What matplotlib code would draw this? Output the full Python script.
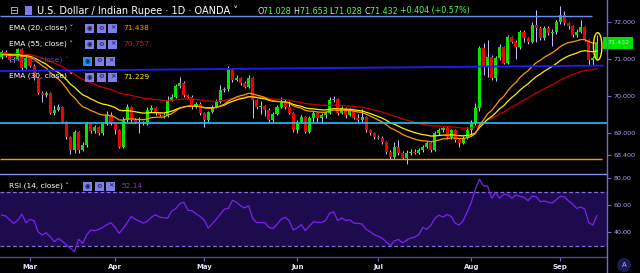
import numpy as np
import pandas as pd
import matplotlib
matplotlib.use("Agg")
import matplotlib.pyplot as plt
from matplotlib.patches import Ellipse, Rectangle
from matplotlib.lines import Line2D
import matplotlib.ticker as mticker

# daily candles, USD/INR (OANDA), 20 Feb - 13 Sep 2019
dates = pd.bdate_range("2019-02-20", "2019-09-13")

first_open = 71.05
close = [
    71.19, 71.11, 70.97, 71.00, 71.27, 70.75, 71.02, 70.81, 70.48, 70.08,
    70.02, 70.08, 69.53, 69.62, 69.70, 69.29, 68.88, 68.53, 69.02, 68.53,
    68.67, 69.24, 69.05, 69.15, 68.99, 69.24, 69.48, 69.26, 69.07, 68.61,
    69.34, 69.70, 69.34, 69.30, 69.26, 69.29, 69.62, 69.67, 69.53, 69.48,
    69.46, 69.89, 69.97, 70.27, 70.35, 70.02, 69.98, 69.70, 69.78, 69.53,
    69.34, 69.56, 69.70, 69.83, 70.16, 70.18, 70.70, 70.43, 70.48, 70.35,
    70.24, 70.48, 69.89, 69.70, 69.72, 69.62, 69.34, 69.51, 69.70, 69.83,
    69.70, 69.53, 69.07, 69.29, 69.43, 69.02, 69.40, 69.53, 69.40, 69.48,
    69.53, 69.89, 69.91, 69.53, 69.67, 69.48, 69.62, 69.40, 69.34, 69.43,
    69.07, 68.99, 68.88, 68.86, 68.75, 68.48, 68.34, 68.61, 68.45, 68.31,
    68.45, 68.48, 68.46, 68.52, 68.61, 68.72, 68.53, 68.99, 69.07, 69.12,
    68.88, 69.07, 68.80, 68.72, 68.86, 69.07, 69.26, 69.67, 71.30, 70.78,
    71.05, 70.48, 71.02, 71.32, 70.89, 71.59, 71.46, 71.32, 71.73, 71.57,
    71.46, 71.92, 71.84, 71.57, 71.84, 71.70, 71.73, 72.00, 72.19, 71.97,
    71.89, 71.65, 71.73, 71.86, 71.51, 70.97, 71.028, 71.432,
]
high = [
    71.24, 71.25, 71.15, 71.05, 71.30, 71.30, 71.08, 71.05, 70.85, 70.52,
    70.12, 70.12, 70.10, 69.75, 69.78, 69.72, 69.32, 68.90, 69.06, 69.05,
    68.75, 69.28, 69.27, 69.20, 69.18, 69.30, 69.58, 69.55, 69.30, 69.10,
    69.43, 69.78, 69.73, 69.40, 69.42, 69.33, 69.70, 69.75, 69.70, 69.56,
    69.52, 70.00, 70.05, 70.32, 70.51, 70.40, 70.05, 70.02, 69.82, 69.82,
    69.56, 69.60, 69.75, 69.90, 70.30, 70.25, 70.82, 70.75, 70.55, 70.52,
    70.40, 70.55, 70.52, 69.92, 69.85, 69.76, 69.66, 69.56, 69.75, 69.98,
    69.90, 69.85, 69.56, 69.34, 69.48, 69.46, 69.45, 69.58, 69.56, 69.52,
    69.58, 69.97, 70.00, 69.94, 69.72, 69.70, 69.66, 69.65, 69.50, 69.65,
    69.46, 69.10, 69.02, 68.95, 68.90, 68.78, 68.52, 68.75, 68.80, 68.50,
    68.52, 68.55, 68.55, 68.58, 68.66, 68.78, 68.76, 69.05, 69.12, 69.15,
    69.15, 69.10, 69.10, 68.84, 68.90, 69.15, 69.35, 69.80, 71.35, 71.43,
    71.51, 71.10, 71.08, 71.40, 71.35, 71.65, 71.62, 71.50, 71.78, 71.78,
    71.60, 72.00, 72.33, 71.88, 71.90, 71.88, 71.80, 72.05, 72.43, 72.30,
    72.00, 71.92, 71.80, 72.05, 71.90, 71.55, 71.08, 71.653,
]
low = [
    71.00, 71.05, 70.92, 70.92, 70.97, 70.70, 70.72, 70.78, 70.43, 70.05,
    69.83, 69.98, 69.50, 69.48, 69.58, 69.25, 68.84, 68.42, 68.45, 68.45,
    68.50, 68.62, 69.00, 68.98, 68.94, 68.95, 69.20, 69.22, 68.97, 68.58,
    68.58, 69.30, 69.30, 69.25, 68.99, 69.20, 69.20, 69.55, 69.48, 69.44,
    69.40, 69.42, 69.85, 69.93, 70.22, 69.97, 69.93, 69.65, 69.66, 69.48,
    69.15, 69.30, 69.52, 69.66, 69.80, 70.10, 70.14, 70.38, 70.40, 70.30,
    70.20, 70.20, 69.40, 69.65, 69.50, 69.45, 69.30, 69.30, 69.48, 69.66,
    69.65, 69.50, 69.02, 68.98, 69.25, 68.98, 68.98, 69.28, 69.30, 69.25,
    69.40, 69.50, 69.82, 69.48, 69.50, 69.40, 69.44, 69.36, 69.30, 69.30,
    69.02, 68.95, 68.84, 68.82, 68.70, 68.43, 68.30, 68.30, 68.40, 68.28,
    68.14, 68.40, 68.42, 68.42, 68.48, 68.58, 68.48, 68.50, 68.95, 69.02,
    68.84, 68.84, 68.75, 68.62, 68.68, 68.82, 68.95, 69.20, 69.60, 70.56,
    70.51, 70.43, 70.40, 70.98, 70.85, 70.85, 71.42, 71.00, 71.28, 71.45,
    71.40, 71.43, 71.46, 71.50, 71.52, 71.66, 71.35, 71.68, 71.95, 71.92,
    71.80, 71.60, 71.60, 71.70, 71.48, 70.83, 70.83, 71.028,
]
rsi = [
    52.5, 51.9, 49.0, 46.4, 48.9, 53.3, 46.9, 49.4, 48.4, 40.2,
    37.8, 39.5, 36.5, 32.8, 35.3, 33.0, 30.4, 27.9, 25.4, 34.6,
    31.6, 37.8, 41.5, 41.0, 42.0, 43.5, 45.5, 46.9, 43.5, 39.0,
    42.7, 47.0, 51.5, 49.5, 48.0, 46.6, 48.0, 51.0, 52.8, 51.0,
    50.6, 50.3, 55.5, 57.3, 61.0, 62.0, 56.0, 55.8, 53.5, 51.6,
    49.0, 43.0, 46.0, 49.5, 53.0, 57.0, 57.5, 63.5, 62.0, 59.5,
    57.8, 59.5, 50.0, 47.0, 47.0, 46.9, 43.5, 42.5, 45.5, 49.5,
    51.0, 48.5, 41.5, 43.0, 45.5, 41.0, 44.5, 47.5, 47.2, 47.0,
    48.5, 54.0, 55.0, 48.5, 50.5, 48.5, 49.0, 46.5, 46.4, 45.9,
    42.0, 40.2, 38.0, 36.8, 35.5, 32.5, 30.0, 33.5, 34.5, 32.0,
    34.0, 35.5, 36.2, 38.0, 43.5, 42.0, 45.0, 50.1, 52.5, 51.0,
    53.0, 51.5, 46.5, 45.2, 48.5, 55.0, 62.0, 72.0, 79.0, 74.1,
    74.1, 65.0, 69.0, 65.0, 68.0, 67.5, 65.0, 67.5, 66.5, 65.7,
    63.2, 66.5, 66.2, 62.5, 63.0, 62.0, 61.5, 64.0, 66.5, 66.0,
    63.0, 60.7, 57.5, 58.5, 57.0, 47.0, 45.2, 52.14,
]

ema_seed = {20: 71.10, 30: 71.12, 55: 71.15}
ema_colors = {20: "#ff9800", 30: "#ffee00", 55: "#c80000"}

# drawn levels
lvl_top = 72.16
lvl_trend = (70.67, 70.82)
lvl_cyan = 69.27
lvl_orange = 68.30

W, H = 640, 273
BG = "black"
GREEN = "#00e600"
RED = "#f00000"
WICK = "#c4c4ff"
LAV = "#a6a6f2"
AXLINE = "#6c6cc8"


def fx(px):
    return px / W


def fy(py):
    return 1 - py / H


def ema(vals, span, seed):
    a = 2 / (span + 1)
    out, prev = [], seed
    for v in vals:
        prev = prev + a * (v - prev)
        out.append(prev)
    return np.array(out)


c = np.array(close)
o = np.array([first_open] + close[:-1])
x = np.arange(len(c))
up = c >= o
x_left, x_right = -0.41, 149.5

fig = plt.figure(figsize=(6.4, 2.73), dpi=100, facecolor=BG)
ax = fig.add_axes([0, fy(174), fx(607), 174 / H], facecolor=BG)
ax2 = fig.add_axes([0, fy(257), fx(607), 83 / H], facecolor=BG)

# ---- price panel
ax.vlines(x, low, high, color=WICK, lw=0.7, zorder=2)
ax.bar(x, np.maximum(np.abs(c - o), 0.012), bottom=np.minimum(o, c), width=0.75,
       color=np.where(up, GREEN, RED), zorder=3)
for span in (55, 30, 20):
    ax.plot(x, ema(close, span, ema_seed[span]), color=ema_colors[span], lw=0.9, zorder=4)

ax.hlines(lvl_top, x_left, 145.8, color="#5f93f5", lw=1.0, zorder=5)
ax.plot([x_left, 148.5], list(lvl_trend), color="#1c1cff", lw=1.3, zorder=5)
ax.axhline(lvl_cyan, color="#1ec3ff", lw=1.2, zorder=5)
ax.hlines(lvl_orange, x_left, 148.3, color="#ff9800", lw=1.0, zorder=5)
ax.add_patch(Ellipse((147.2, 71.34), 2.1, 0.74, fill=False, ec="#ffee00", lw=1.0, zorder=6))

ax.set_xlim(x_left, x_right)
ax.set_ylim(67.88, 72.596)
ax.yaxis.tick_right()
ax.set_yticks([72, 71, 70, 69, 68.4])
ax.yaxis.set_major_formatter(mticker.FormatStrFormatter("%.3f"))
ax.tick_params(axis="y", colors=AXLINE, labelcolor=LAV, labelsize=4.6, length=3, width=0.8, pad=2)
ax.set_xticks([])
for s in ax.spines.values():
    s.set_visible(False)

ax.text(1.0, close[-1], "71.432", transform=ax.get_yaxis_transform(), ha="left", va="center",
        fontsize=4.6, color="#b4ffb4", zorder=10, clip_on=False,
        bbox=dict(boxstyle="square,pad=0.55", fc="#00e000", ec="none"))

# ---- RSI panel
ax2.axhspan(30, 70, color="#1d0b4e", lw=0)
for lv in (70, 30):
    ax2.axhline(lv, color="#7f6fe0", lw=0.9, ls=(0, (3, 2)))
ax2.plot(x, rsi, color="#7a22f0", lw=0.9)
ax2.set_xlim(x_left, x_right)
ax2.set_ylim(21.5, 82.96)
ax2.yaxis.tick_right()
ax2.set_yticks([80, 60, 40])
ax2.yaxis.set_major_formatter(mticker.FormatStrFormatter("%.2f"))
ax2.tick_params(axis="y", colors=AXLINE, labelcolor=LAV, labelsize=4.6, length=3, width=0.8, pad=2)

month_pos = [i for i in range(1, len(dates)) if dates[i].month != dates[i - 1].month]
ax2.set_xticks(month_pos)
ax2.set_xticklabels([dates[i].strftime("%b") for i in month_pos], fontweight="bold")
ax2.tick_params(axis="x", colors=AXLINE, labelcolor="#e4e4ff", labelsize=5, length=3, width=0.8, pad=2)
for k, s in ax2.spines.items():
    s.set_visible(k in ("top", "bottom"))
ax2.spines["top"].set_color("#8c8cf0")
ax2.spines["top"].set_linewidth(1.0)
ax2.spines["bottom"].set_color("#4a4a96")
ax2.spines["bottom"].set_linewidth(1.0)

fig.add_artist(Line2D([fx(607), fx(607)], [0, 1], color=AXLINE, lw=1.0, transform=fig.transFigure))

# ---- header / legends
renderer = fig.canvas.get_renderer()


def run_text(px, py, pieces, size, weight="normal"):
    for s, col in pieces:
        t = fig.text(fx(px), fy(py), s, color=col, fontsize=size, va="center", ha="left",
                     fontweight=weight, zorder=20)
        px += t.get_window_extent(renderer).width


def icons(py, x0, first="#7f7fea"):
    for k, sym in enumerate(["◉", "⚙", "✕"]):
        bx = x0 + k * 11.5
        fig.add_artist(Rectangle((fx(bx), fy(py + 4.5)), 9 / W, 9 / H, transform=fig.transFigure,
                                 fc=first if k == 0 else "#7f7fea", ec="none", zorder=20))
        fig.text(fx(bx + 4.5), fy(py), sym, color="#14143c", fontsize=4.6, ha="center", va="center",
                 zorder=21)


fig.text(fx(13.5), fy(10.5), "⊟", color="#c8c8ff", fontsize=7.5, ha="center", va="center")
fig.add_artist(Rectangle((fx(25), fy(15)), 7 / W, 9 / H, transform=fig.transFigure,
                         fc="#7b7bea", ec="none"))
fig.text(fx(37), fy(11), "U.S. Dollar / Indian Rupee · 1D · OANDA ˅", color="white",
         fontsize=7.0, va="center", ha="left")
run_text(257, 11, [("O", "#e6e6ff"), ("71.028 ", "#4cff4c"), ("H", "#e6e6ff"), ("71.653 ", "#4cff4c"),
                   ("L", "#e6e6ff"), ("71.028 ", "#4cff4c"), ("C", "#e6e6ff"), ("71.432 ", "#4cff4c"),
                   ("+0.404 (+0.57%)", "#4cff4c")], 5.8)

rows = [
    (28, "EMA (20, close) ˅", "71.438", "#ff9800", "white", "#7f7fea", 85),
    (44, "EMA (55, close) ˅", "70.757", "#d01a1a", "white", "#7f7fea", 85),
    (61, "EMA (9, close) ˅", "", "", "#5c4ad0", "#2196f3", 83),
    (77, "EMA (30, close) ˅", "71.229", "#ffee00", "white", "#7f7fea", 85),
    (186, "RSI (14, close) ˅", "52.14", "#8e2de2", "white", "#7f7fea", 83),
]
for py, label, val, vcol, tcol, eye, ix in rows:
    fig.text(fx(9), fy(py), label, color=tcol, fontsize=5.4, va="center", ha="left", zorder=20)
    icons(py, ix, eye)
    if val:
        fig.text(fx(ix + 38), fy(py), val, color=vcol, fontsize=5.4, va="center", ha="left", zorder=20)

fig.add_artist(Ellipse((fx(624), fy(265)), 14 / W, 14 / H, transform=fig.transFigure,
                       fc="#1c1c50", ec="none"))
fig.text(fx(624), fy(265), "A", color="#b0b0ff", fontsize=5, ha="center", va="center")

fig.savefig("out.png", dpi=100, facecolor=BG)
